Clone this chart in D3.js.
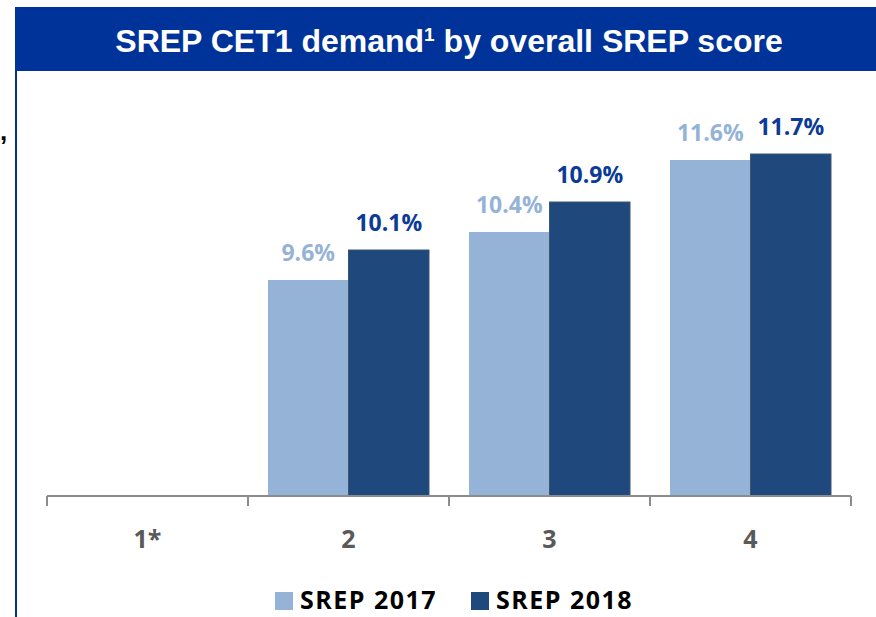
<!DOCTYPE html>
<html>
<head>
<meta charset="utf-8">
<script src="https://cdn.jsdelivr.net/npm/d3@7"></script>
<style>
  body { margin: 0; background: #fff; }
  svg { display: block; }
</style>
</head>
<body>
<script>
// data
var categories = ["1*", "2", "3", "4"];
var seriesNames = ["SREP 2017", "SREP 2018"];
var srep2017 = [null, 9.6, 10.4, 11.6];
var srep2018 = [null, 10.1, 10.9, 11.7];
var yDomain = [6, 12];

var w = 876, h = 617;
var barColors = ["#95b3d7", "#1f497d"];
var labelColors = ["#95b3d7", "#0b3a97"];
var sideFont = "'Open Sans', Lato, sans-serif";

var svg = d3.select("body").append("svg")
	.attr("width", w)
	.attr("height", h);

// header band
svg.append("rect")
	.attr("x", 15).attr("y", 7)
	.attr("width", w - 15).attr("height", 64)
	.style("fill", "#003399");

// left border line
svg.append("line")
	.attr("x1", 16).attr("x2", 16)
	.attr("y1", 7).attr("y2", h)
	.style("stroke", "#003399")
	.style("stroke-width", 2);

// stray comma at the left edge
svg.append("text")
	.attr("x", 0).attr("y", 140)
	.style("font-family", "'Liberation Sans', Arial, sans-serif")
	.style("font-weight", "bold")
	.style("font-size", "26px")
	.text(",");

var title = svg.append("text")
	.attr("x", 449).attr("y", 52)
	.attr("text-anchor", "middle")
	.style("font-family", "'Liberation Sans', Arial, sans-serif")
	.style("font-weight", "bold")
	.style("font-size", "32px")
	.style("fill", "#fff");
title.append("tspan").text("SREP CET1 demand");
title.append("tspan").attr("dy", -11).style("font-size", "19px").text("1");
title.append("tspan").attr("dy", 11).text(" by overall SREP score");

// scales
var x = d3.scaleBand()
	.domain(categories)
	.range([47, 851]);

var xInner = d3.scaleBand()
	.domain(seriesNames)
	.range([20, x.bandwidth() - 20]);

var y = d3.scaleLinear()
	.domain(yDomain)
	.range([496, 136]);

var rows = categories.map(function(c, i){
	return {cat: c, values: [srep2017[i], srep2018[i]]};
});

var groups = svg.selectAll(".group")
	.data(rows)
	.enter()
	.append("g")
	.attr("class", "group")
	.attr("transform", function(d){ return "translate(" + x(d.cat) + ",0)"; });

var cells = groups.selectAll(".cell")
	.data(function(d){
		return d.values.map(function(v, j){ return {name: seriesNames[j], v: v, j: j}; })
			.filter(function(e){ return e.v != null; });
	})
	.enter();

cells.append("rect")
	.attr("x", function(d){ return xInner(d.name); })
	.attr("y", function(d){ return y(d.v); })
	.attr("width", xInner.bandwidth())
	.attr("height", function(d){ return y(yDomain[0]) - y(d.v); })
	.style("fill", function(d){ return barColors[d.j]; })
	.style("stroke", function(d){ return d.j == 1 ? "#3d5670" : "none"; })
	.style("stroke-width", 1);

cells.append("text")
	.attr("x", function(d){ return xInner(d.name) + xInner.bandwidth() / 2; })
	.attr("y", function(d){ return y(d.v) - 19; })
	.attr("text-anchor", "middle")
	.style("font-family", sideFont)
	.style("font-weight", "bold")
	.style("font-size", "23px")
	.style("fill", function(d){ return labelColors[d.j]; })
	.text(function(d){ return d.v.toFixed(1) + "%"; });

// x axis
var xAxis = d3.axisBottom(x).tickSize(0).tickPadding(0);
var axis = svg.append("g")
	.attr("class", "axis")
	.attr("transform", "translate(0,496)")
	.call(xAxis);
axis.select(".domain").remove();
axis.append("line")
	.attr("x1", 47).attr("x2", 851)
	.style("stroke", "#8c8c8c").style("stroke-width", 2);
axis.selectAll(".sep")
	.data(categories.concat(["end"]))
	.enter()
	.append("line")
	.attr("x1", function(d, i){ return 47 + i * x.step(); })
	.attr("x2", function(d, i){ return 47 + i * x.step(); })
	.attr("y1", 0).attr("y2", 10)
	.style("stroke", "#8c8c8c").style("stroke-width", 2);
axis.selectAll(".tick text")
	.attr("y", 52)
	.attr("dy", 0)
	.style("font-family", sideFont)
	.style("font-weight", "bold")
	.style("font-size", "25px")
	.style("fill", "#595959");

// legend
var legend = svg.selectAll(".legend")
	.data(seriesNames)
	.enter()
	.append("g")
	.attr("class", "legend")
	.attr("transform", function(d, i){ return "translate(" + (275 + i * 196) + ",592)"; });
legend.append("rect")
	.attr("width", 18).attr("height", 18)
	.style("fill", function(d, i){ return barColors[i]; });
legend.append("text")
	.attr("x", 25).attr("y", 17)
	.style("font-family", sideFont)
	.style("font-weight", "bold")
	.style("font-size", "25px")
	.style("letter-spacing", "1.5px")
	.style("fill", "#000")
	.text(function(d){ return d; });
</script>
</body>
</html>
